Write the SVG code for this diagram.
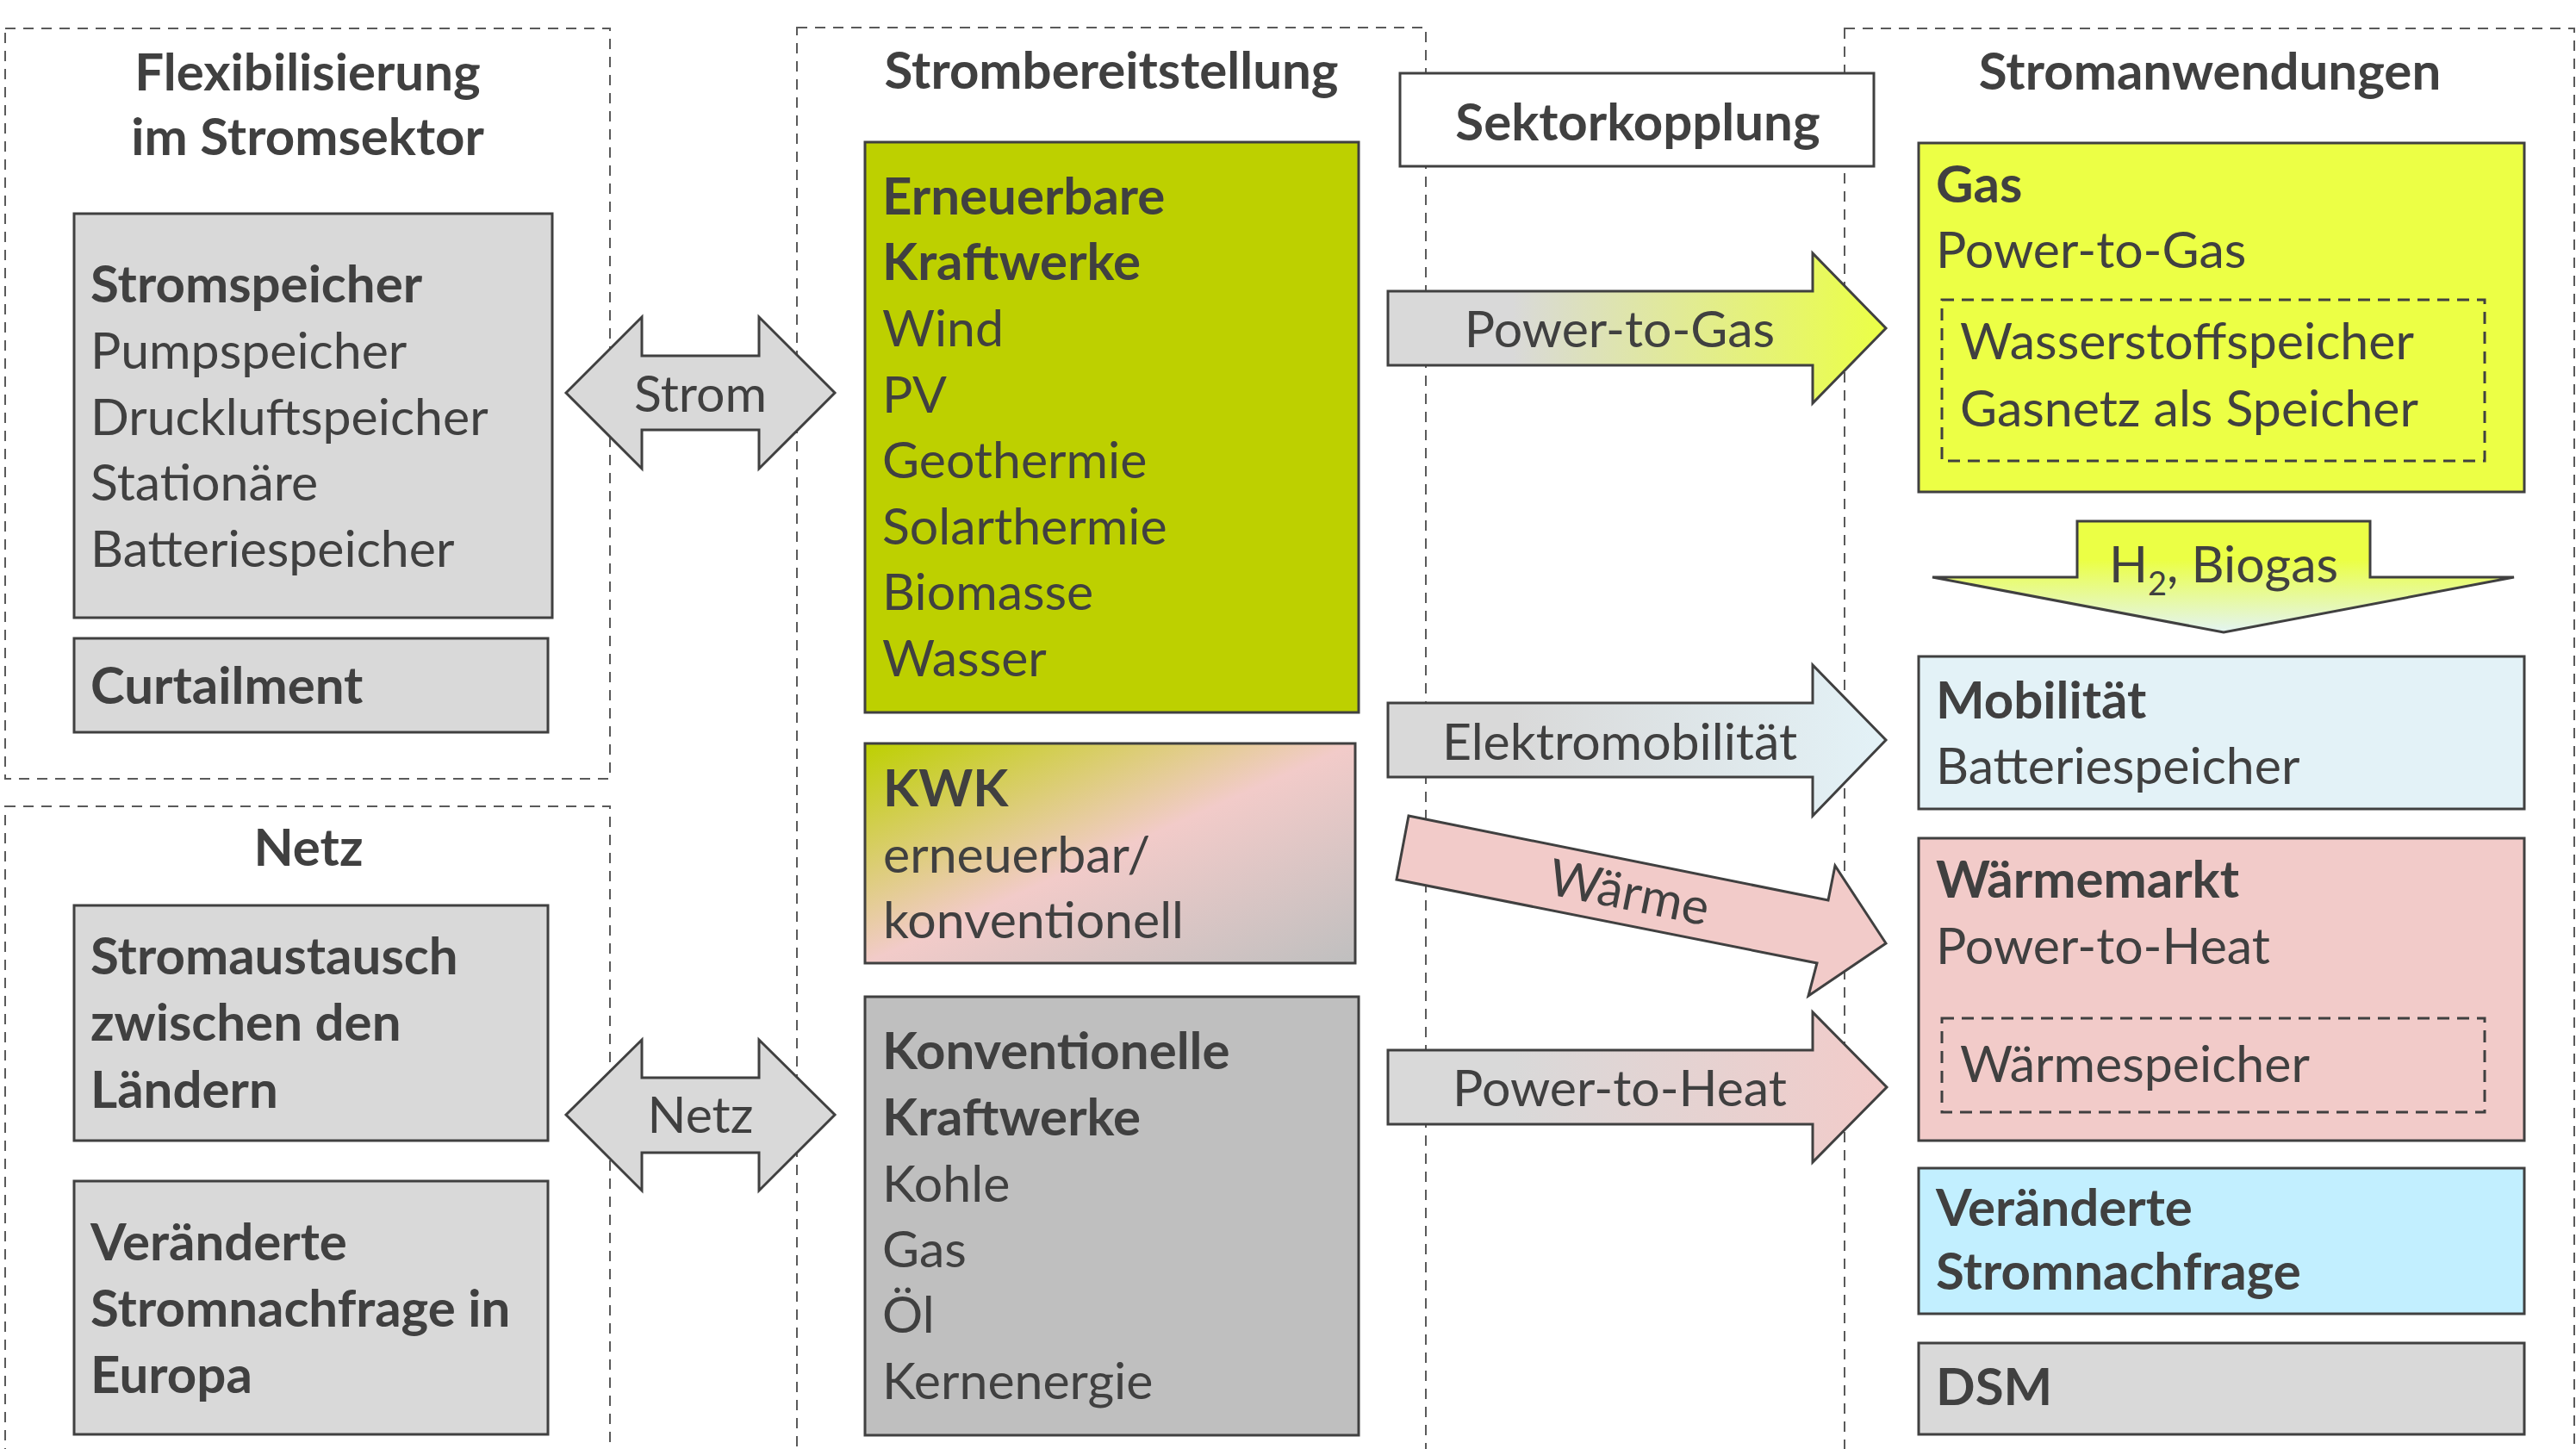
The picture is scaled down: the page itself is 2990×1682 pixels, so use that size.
<svg xmlns="http://www.w3.org/2000/svg" width="2990" height="1682" viewBox="0 0 2990 1682">
<defs>
<style>
.t{font-family:Lato,"Liberation Sans",sans-serif;font-size:59px;fill:#404040}
.b{font-weight:bold;font-size:60px}
.c{text-anchor:middle}
.frame{fill:none;stroke:#5a5a5a;stroke-width:2;stroke-dasharray:12 9}
.box{stroke:#404040;stroke-width:3}
.inner{fill:none;stroke:#404040;stroke-width:3;stroke-dasharray:14 9}
.arr{stroke:#404040;stroke-width:3;stroke-linejoin:miter}
</style>
<linearGradient id="gGas" x1="0" y1="0" x2="1" y2="0"><stop offset="0" stop-color="#D9D9D9"/><stop offset="0.25" stop-color="#D9D9D9"/><stop offset="1" stop-color="#EBFF45"/></linearGradient>
<linearGradient id="gMob" x1="0" y1="0" x2="1" y2="0"><stop offset="0" stop-color="#D9D9D9"/><stop offset="0.25" stop-color="#D9D9D9"/><stop offset="1" stop-color="#E3F2F7"/></linearGradient>
<linearGradient id="gHeat" x1="0" y1="0" x2="1" y2="0"><stop offset="0" stop-color="#D9D9D9"/><stop offset="0.25" stop-color="#D9D9D9"/><stop offset="1" stop-color="#F2CBC9"/></linearGradient>
<linearGradient id="gH2" x1="0" y1="0" x2="0" y2="1"><stop offset="0" stop-color="#EBFF45"/><stop offset="0.35" stop-color="#EBFF45"/><stop offset="1" stop-color="#E3F4F3"/></linearGradient>
<linearGradient id="gKWK" x1="0" y1="0" x2="1" y2="1"><stop offset="0" stop-color="#BDD000"/><stop offset="0.5" stop-color="#F2CBC9"/><stop offset="1" stop-color="#BFBFBF"/></linearGradient>
</defs>
<rect width="2990" height="1682" fill="#FFFFFF"/>

<g id="containers">
<rect class="frame" x="6" y="33" width="702" height="871"/>
<rect class="frame" x="6" y="936" width="702" height="800"/>
<rect class="frame" x="925" y="32" width="730" height="1700"/>
<rect class="frame" x="2141" y="33" width="847" height="1700"/>
<text class="t b c" x="357" y="105">Flexibilisierung</text>
<text class="t b c" x="357" y="180">im Stromsektor</text>
<text class="t b c" x="358" y="1005">Netz</text>
<text class="t b c" x="1290" y="103">Strombereitstellung</text>
<text class="t b c" x="2565" y="104">Stromanwendungen</text>
</g>

<g id="connectors">
<g id="arrow-strom">
<polygon class="arr" fill="#D9D9D9" points="657,456 745,368 745,413 881,413 881,368 969,456 881,544 881,499 745,499 745,544"/>
<text class="t c" x="813" y="478">Strom</text>
</g>
<g id="arrow-netz">
<polygon class="arr" fill="#D9D9D9" points="657,1294 745,1207 745,1251 881,1251 881,1207 969,1294 881,1382 881,1338 745,1338 745,1382"/>
<text class="t c" x="813" y="1315">Netz</text>
</g>
<g id="arrow-p2g">
<polygon class="arr" fill="url(#gGas)" points="1611,338 2104,338 2104,294 2189,381 2104,468 2104,424 1611,424"/>
<text class="t c" x="1880" y="403">Power-to-Gas</text>
</g>
<g id="arrow-emob">
<polygon class="arr" fill="url(#gMob)" points="1611,816 2104,816 2104,772 2189,859 2104,947 2104,902 1611,902"/>
<text class="t c" x="1880" y="882">Elektromobilität</text>
</g>
<g id="arrow-waerme">
<polygon class="arr" fill="#F2CBC9" points="1635,947 2122,1045 2130,1005 2189,1095 2099,1156 2109,1118 1621,1021"/>
<text class="t c" x="1887" y="1056" transform="rotate(11.4 1887 1056)">Wärme</text>
</g>
<g id="arrow-p2h">
<polygon class="arr" fill="url(#gHeat)" points="1611,1219 2104,1219 2104,1175 2190,1262 2104,1349 2104,1305 1611,1305"/>
<text class="t c" x="1880" y="1284">Power-to-Heat</text>
</g>
<g id="arrow-h2">
<polygon class="arr" fill="url(#gH2)" points="2411,605 2751,605 2751,670 2918,670 2581,734 2243,670 2411,670"/>
<text class="t c" x="2581" y="676">H<tspan font-size="38" dy="15">2</tspan><tspan dy="-15">, Biogas</tspan></text>
</g>
</g>

<g id="node-stromspeicher">
<rect class="box" fill="#D9D9D9" x="86" y="248" width="555" height="469"/>
<text class="t b" x="105" y="351">Stromspeicher</text>
<text class="t" x="105" y="428">Pumpspeicher</text>
<text class="t" x="105" y="505">Druckluftspeicher</text>
<text class="t" x="105" y="581">Stationäre</text>
<text class="t" x="105" y="658">Batteriespeicher</text>
</g>
<g id="node-curtailment">
<rect class="box" fill="#D9D9D9" x="86" y="741" width="550" height="109"/>
<text class="t b" x="105" y="817">Curtailment</text>
</g>
<g id="node-stromaustausch">
<rect class="box" fill="#D9D9D9" x="86" y="1051" width="550" height="273"/>
<text class="t b" x="105" y="1131">Stromaustausch</text>
<text class="t b" x="105" y="1208">zwischen den</text>
<text class="t b" x="105" y="1286">Ländern</text>
</g>
<g id="node-nachfrage-europa">
<rect class="box" fill="#D9D9D9" x="86" y="1371" width="550" height="294"/>
<text class="t b" x="105" y="1463">Veränderte</text>
<text class="t b" x="105" y="1540">Stromnachfrage in</text>
<text class="t b" x="105" y="1617">Europa</text>
</g>

<g id="node-erneuerbare">
<rect class="box" fill="#BDD000" x="1004" y="165" width="573" height="662"/>
<text class="t b" x="1024" y="249">Erneuerbare</text>
<text class="t b" x="1024" y="325">Kraftwerke</text>
<text class="t" x="1024" y="402">Wind</text>
<text class="t" x="1024" y="479">PV</text>
<text class="t" x="1024" y="555">Geothermie</text>
<text class="t" x="1024" y="632">Solarthermie</text>
<text class="t" x="1024" y="708">Biomasse</text>
<text class="t" x="1024" y="785">Wasser</text>
</g>
<g id="node-kwk">
<rect class="box" fill="url(#gKWK)" x="1004" y="863" width="569" height="255"/>
<text class="t b" x="1025" y="936">KWK</text>
<text class="t" x="1025" y="1013">erneuerbar/</text>
<text class="t" x="1025" y="1089">konventionell</text>
</g>
<g id="node-konventionelle">
<rect class="box" fill="#BFBFBF" x="1004" y="1157" width="573" height="509"/>
<text class="t b" x="1024" y="1241">Konventionelle</text>
<text class="t b" x="1024" y="1318">Kraftwerke</text>
<text class="t" x="1024" y="1395">Kohle</text>
<text class="t" x="1024" y="1471">Gas</text>
<text class="t" x="1024" y="1547">Öl</text>
<text class="t" x="1024" y="1624">Kernenergie</text>
</g>
<g id="node-sektorkopplung">
<rect class="box" fill="#FFFFFF" x="1625" y="85" width="550" height="108"/>
<text class="t b c" x="1901" y="163">Sektorkopplung</text>
</g>

<g id="node-gas">
<rect class="box" fill="#ECFF45" x="2227" y="166" width="703" height="405"/>
<text class="t b" x="2247" y="235">Gas</text>
<text class="t" x="2247" y="311">Power-to-Gas</text>
<rect class="inner" x="2254" y="348" width="630" height="187"/>
<text class="t" x="2275" y="417">Wasserstoffspeicher</text>
<text class="t" x="2275" y="495">Gasnetz als Speicher</text>
</g>
<g id="node-mobilitaet">
<rect class="box" fill="#E3F2F7" x="2227" y="762" width="703" height="177"/>
<text class="t b" x="2247" y="834">Mobilität</text>
<text class="t" x="2247" y="910">Batteriespeicher</text>
</g>
<g id="node-waermemarkt">
<rect class="box" fill="#F2CBC9" x="2227" y="973" width="703" height="351"/>
<text class="t b" x="2247" y="1042">Wärmemarkt</text>
<text class="t" x="2247" y="1119">Power-to-Heat</text>
<rect class="inner" x="2254" y="1182" width="630" height="109"/>
<text class="t" x="2275" y="1256">Wärmespeicher</text>
</g>
<g id="node-nachfrage">
<rect class="box" fill="#C2EFFF" x="2227" y="1356" width="703" height="169"/>
<text class="t b" x="2247" y="1423">Veränderte</text>
<text class="t b" x="2247" y="1497">Stromnachfrage</text>
</g>
<g id="node-dsm">
<rect class="box" fill="#D9D9D9" x="2227" y="1559" width="703" height="106"/>
<text class="t b" x="2247" y="1631">DSM</text>
</g>
</svg>
